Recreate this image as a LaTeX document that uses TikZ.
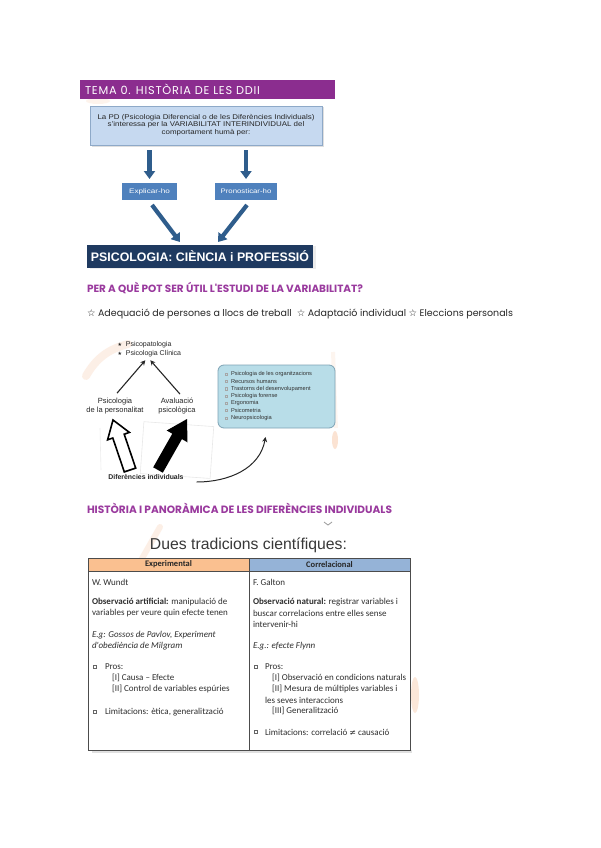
\documentclass[tikz,border=0pt]{standalone}
\usepackage{fontspec}
\usepackage{graphicx}
\setmainfont{Liberation Sans}
\newfontfamily\popfont{Poppins}
\newfontfamily\popspaced{Poppins}[LetterSpace=7]
\newfontfamily\calfont{Carlito}
\newfontfamily\symfont{DejaVu Sans}
\usetikzlibrary{arrows.meta,shadows,calc}
\newcommand{\fitw}[2]{\resizebox{#1pt}{!}{#2}}
\definecolor{purp}{HTML}{8B2D8F}
\definecolor{headpurp}{HTML}{9A3A9E}
\definecolor{boxblue}{HTML}{C6D9F0}
\definecolor{boxborder}{HTML}{8EA9C8}
\definecolor{arrblue}{HTML}{2F5D8C}
\definecolor{midblue}{HTML}{4F81BD}
\definecolor{navy}{HTML}{1F3A60}
\definecolor{lblue}{HTML}{B8DDE8}
\definecolor{lbborder}{HTML}{7FA3B5}
\definecolor{orangeh}{HTML}{FAC090}
\definecolor{blueh}{HTML}{95B3D7}
\definecolor{peach}{HTML}{F4B183}
\tikzset{
  hdrbar/.style={fill=purp},
  pdbox/.style={draw=boxborder, fill=boxblue, line width=0.6pt,
    drop shadow={shadow xshift=1.5pt, shadow yshift=-1.5pt, opacity=0.25}},
  smallbox/.style={fill=midblue, text=white, font=\fontsize{6.5}{7}\selectfont},
  navybox/.style={fill=navy, text=white,
    drop shadow={shadow xshift=3pt, shadow yshift=-1pt, opacity=0.15}},
  bluearr/.style={draw=arrblue, line width=4.2pt, -{Triangle[width=11pt,length=8pt]}},
  thinarr/.style={draw=black!85, line width=1.1pt, -{Stealth[width=5pt,length=5pt]}},
  midtxt/.style={font=\fontsize{7.5}{8.7}\selectfont, text=black!85, align=center},
  listtxt/.style={anchor=west, font=\fontsize{5.7}{6}\selectfont, text=black!80},
  listbul/.style={draw=black!35, line width=0.3pt, minimum size=2.2pt},
  tcell/.style={draw=black!70, line width=0.7pt},
  thead/.style={tcell, minimum width=161pt, minimum height=13pt, anchor=north west,
    font=\calfont\bfseries\fontsize{8.5}{9}\selectfont, text=black!85},
  tbody/.style={tcell, minimum width=161pt, minimum height=179pt, anchor=north west},
  tl/.style={anchor=west, font=\calfont\fontsize{9}{10}\selectfont, text=black!82},
  tsq/.style={draw=black!60, line width=0.4pt, minimum size=3.2pt},
  deco/.style={peach},
}
\begin{document}
\begin{tikzpicture}[x=1pt,y=-1pt, every node/.style={inner sep=0pt, outer sep=0pt}]
\useasboundingbox (0,0) rectangle (600,848);
\fill[white] (0,0) rectangle (600,848);

% decorative faint swooshes
\fill[deco, opacity=0.15] (98,101) ellipse (12pt and 3pt);
\draw[deco, line width=8pt, opacity=0.2, line cap=round] (86,376) to[out=60,in=195] (128,344);
\draw[deco, line width=4pt, opacity=0.12] (333,352) -- (336,428);
\fill[deco, opacity=0.35] (335,440) ellipse (3pt and 9pt);
\draw[deco, line width=6pt, opacity=0.2, line cap=round] (160,527) -- (140,562);
\fill[deco, opacity=0.3] (415,695) ellipse (4pt and 18pt);
\draw[black!40, line width=0.8pt] (324,522) -- (328,525) -- (332,522);

% header bar
\node[hdrbar, minimum width=255pt, minimum height=19pt, anchor=north west] (bar) at (80,80) {};
\node[anchor=west, text=white] (bartxt) at (85,89.5) {\fitw{175}{\popspaced TEMA 0. HISTÒRIA DE LES DDII}};

% top diagram
\node[pdbox, minimum width=232pt, minimum height=39pt, anchor=north west] (pd) at (90,106) {};
\node[text=black!85] (pdtxt) at (pd.center)
  {\scalebox{1.15}[1]{\fontsize{6.9}{7.4}\selectfont\begin{tabular}{@{}c@{}}
   La PD (Psicologia Diferencial o de les Diferències Individuals)\\
   s'interessa per la VARIABILITAT INTERINDIVIDUAL del\\
   comportament humà per:\end{tabular}}};
\node[smallbox, minimum width=55pt, minimum height=17pt] (ex) at (149.5,191.5) {\scalebox{1.25}[1]{Explicar-ho}};
\node[smallbox, minimum width=62pt, minimum height=17pt] (pr) at (246,191.5) {\scalebox{1.2}[1]{Pronosticar-ho}};
\node[navybox, minimum width=226pt, minimum height=23pt, anchor=north west] (ps) at (87,245)
  {\fitw{218}{\bfseries PSICOLOGIA: CIÈNCIA i PROFESSIÓ}};
\draw[bluearr] ($(pd.south -| ex.north)+(0,5)$) -- ($(ex.north)+(0,-4)$);
\draw[bluearr] ($(pd.south -| pr.north)+(0,5)$) -- ($(pr.north)+(0,-4)$);
\draw[bluearr] ($(ex.south)+(2.5,5)$) -- ($(ps.north)+(-20,-3)$);
\draw[bluearr] ($(pr.south)+(1,5)$) -- ($(ps.north)+(18,-3)$);

% heading 2 and stars
\node[anchor=west, text=headpurp] (h2) at (87,288)
  {\fitw{276}{\popfont\bfseries PER A QUÈ POT SER ÚTIL L'ESTUDI DE LA VARIABILITAT?}};
\node[anchor=west, text=black!85] (stars) at (87,313.5)
  {\fitw{426}{\popfont{\symfont ☆} Adequació de persones a llocs de treball\ \ {\symfont ☆} Adaptació individual {\symfont ☆} Eleccions personals}};

% middle diagram
\draw[black!9, line width=0.6pt, rotate around={-4:(176,450)}] (142,424) rectangle (212,476);
\draw[black!7, line width=0.6pt] (100,428) -- (101,470);
\node[align=left, font=\fontsize{7}{9}\selectfont, text=black!85, anchor=west] (pc) at (117.5,349.5)
  {{\symfont\fontsize{5}{5}\selectfont ★}\ \ Psicopatologia\\
   {\symfont\fontsize{5}{5}\selectfont ★}\ \ Psicologia Clínica};
\node[midtxt] (per) at (115,406) {Psicologia\\de la personalitat};
\node[midtxt] (ava) at (177,406) {Avaluació\\psicològica};
\draw[thinarr] ($(per.north)+(2,-5)$) -- ($(pc.south)+(-4,3)$);
\draw[thinarr] ($(ava.north)+(3,-4)$) -- ($(pc.south)+(1,3)$);
% hollow arrow (personality)
\draw[black, fill=white, line width=1.6pt, line join=miter]
  (113,420) -- (129.4,432.4) -- (124.2,434.2) -- (135.7,468.1) -- (124.3,471.9)
  -- (112.8,438.0) -- (107.6,439.8) -- cycle;
% black arrow (assessment)
\fill[black] (187,419) -- (187.5,442.3) -- (181.9,439.1) -- (162.8,472.7) -- (153.2,467.3)
  -- (172.3,433.7) -- (166.7,430.5) -- cycle;
\node[font=\bfseries\fontsize{6.9}{8}\selectfont, text=black!85] (dif) at (146,477) {Diferències individuals};
\node[draw=lbborder, fill=lblue, rounded corners=6pt, minimum width=117pt, minimum height=63pt,
  anchor=north west, line width=0.8pt] (lb) at (218,365) {};
\foreach \t [count=\i] in {Psicologia de les organitzacions, Recursos humans,
  Trastorns del desenvolupament, Psicologia forense, Ergonomia, Psicometria, Neuropsicologia} {
  \node[listbul] (lbul\i) at (226,{374+7.3*(\i-1)}) {};
  \node[listtxt] (li\i) at (231,{374+7.3*(\i-1)}) {\t};
}
\draw[thinarr, line width=1pt] ($(dif.east)+(13,5)$) to[out=0,in=-100] ($(lb.south)+(-11,9)$);

% heading 3
\node[anchor=west, text=headpurp] (h3) at (87,508)
  {\fitw{305}{\popfont\bfseries HISTÒRIA I PANORÀMICA DE LES DIFERÈNCIES INDIVIDUALS}};
\node[text=black!78] (dues) at (248.5,545) {\fitw{197}{\fontsize{16.4}{18}\selectfont Dues tradicions científiques:}};

% table
\fill[black!12] (92,750) rectangle (412,753);
\node[thead, fill=orangeh] (hL) at (88,558) {Experimental};
\node[thead, fill=blueh] (hR) at (249,558) {Correlacional};
\node[tbody] (bL) at (88,571) {};
\node[tbody] (bR) at (249,571) {};

\node[tl] (l1) at (92,582) {W. Wundt};
\node[tl] (l2) at (92,602) {\textbf{Observació artificial:} manipulació de};
\node[tl] (l3) at (92,613) {variables per veure quin efecte tenen};
\node[tl] (l4) at (92,635) {\itshape E.g: Gossos de Pavlov, Experiment};
\node[tl] (l5) at (92,646) {\itshape d'obediència de Milgram};
\node[tsq] (lsq1) at (94.5,667) {};
\node[tl] (l6) at (105,667) {Pros:};
\node[tl] (l7) at (112,678) {[I] Causa – Efecte};
\node[tl] (l8) at (112,689) {[II] Control de variables espúries};
\node[tsq] (lsq2) at (94.5,712) {};
\node[tl] (l9) at (105,712) {Limitacions: ètica, generalització};

\node[tl] (r1) at (253,582) {F. Galton};
\node[tl] (r2) at (253,602) {\textbf{Observació natural:} registrar variables i};
\node[tl] (r3) at (253,613) {buscar correlacions entre elles sense};
\node[tl] (r4) at (253,624) {intervenir-hi};
\node[tl] (r5) at (253,646) {\itshape E.g.: efecte Flynn};
\node[tsq] (rsq1) at (255.5,667) {};
\node[tl] (r6) at (265,667) {Pros:};
\node[tl] (r7) at (272,678) {[I] Observació en condicions naturals};
\node[tl] (r8) at (272,689) {[II] Mesura de múltiples variables i};
\node[tl] (r9) at (265,700) {les seves interaccions};
\node[tl] (r10) at (272,711) {[III] Generalització};
\node[tsq] (rsq2) at (255.5,732) {};
\node[tl] (r11) at (265,732) {Limitacions: correlació {\symfont\fontsize{8}{9}\selectfont ≠} causació};
\end{tikzpicture}
\end{document}
